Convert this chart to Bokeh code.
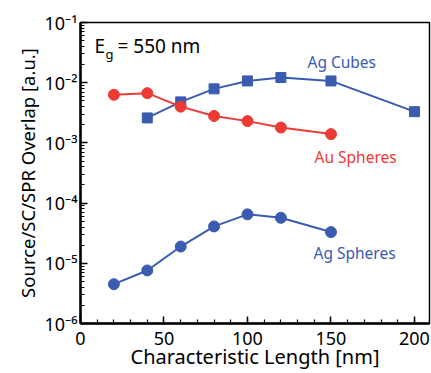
from bokeh.plotting import figure
from bokeh.models import Range1d, Label, FixedTicker, CustomJSTickFormatter, LogTicker
from bokeh.embed import file_html
from bokeh.resources import INLINE

# data
au_x = [20, 40, 60, 80, 100, 120, 150]
au_y = [6.3e-3, 6.7e-3, 4.0e-3, 2.8e-3, 2.3e-3, 1.8e-3, 1.4e-3]
cube_x = [40, 60, 80, 100, 120, 150, 200]
cube_y = [2.6e-3, 4.8e-3, 7.9e-3, 1.07e-2, 1.22e-2, 1.07e-2, 3.3e-3]
agsph_x = [20, 40, 60, 80, 100, 120, 150]
agsph_y = [4.5e-6, 7.6e-6, 1.9e-5, 4.1e-5, 6.5e-5, 5.7e-5, 3.3e-5]
x_ticks = [0, 50, 100, 150, 200]
x_title = "Characteristic Length [nm]"
y_title = "Source/SC/SPR Overlap [a.u.]"

BLUE = "#3a5bb0"
RED = "#ec3b34"
FONT = "Noto Sans"

p = figure(width=431, height=373, y_axis_type="log", output_backend="svg",
           toolbar_location=None, x_range=Range1d(0, 209), y_range=Range1d(1e-6, 1e-1),
           min_border_left=80, min_border_right=2, min_border_top=22, min_border_bottom=50)
p.grid.visible = False
p.outline_line_color = "black"
p.outline_line_width = 1.5
p.outline_line_alpha = 1

p.xaxis.ticker = FixedTicker(ticks=x_ticks, minor_ticks=list(range(0, 210, 10)))
p.yaxis.ticker = LogTicker(num_minor_ticks=10)
p.yaxis.formatter = CustomJSTickFormatter(code="""
const sup = {'-':'\u207b','0':'\u2070','1':'\u00b9','2':'\u00b2','3':'\u00b3','4':'\u2074','5':'\u2075','6':'\u2076','7':'\u2077','8':'\u2078','9':'\u2079'};
const e = Math.round(Math.log10(tick)).toString();
return '10' + e.split('').map(c => sup[c]).join('');
""")
for ax in (p.xaxis[0], p.yaxis[0]):
    ax.axis_line_width = 2.5
    ax.axis_line_color = "black"
    ax.major_tick_in = 7
    ax.major_tick_out = 0
    ax.minor_tick_in = 4
    ax.minor_tick_out = 0
    ax.major_tick_line_width = 1.5
    ax.minor_tick_line_width = 1.2
    ax.major_label_text_font = FONT
    ax.major_label_text_font_size = "18px"
    ax.major_label_text_color = "black"
    ax.axis_label_text_font = FONT
    ax.axis_label_text_font_style = "normal"
    ax.axis_label_text_color = "black"
p.xaxis.axis_label = x_title
p.yaxis.axis_label = y_title
p.xaxis.axis_label_text_font_size = "20px"
p.yaxis.axis_label_text_font_size = "18.5px"
p.xaxis.major_label_standoff = 8
p.yaxis.major_label_standoff = 3
p.xaxis.axis_label_standoff = -5
p.yaxis.axis_label_standoff = 2

p.line(cube_x, cube_y, line_color=BLUE, line_width=2)
p.scatter(cube_x, cube_y, marker="square", size=10, fill_color=BLUE, line_color=BLUE)
p.line(au_x, au_y, line_color=RED, line_width=2)
p.scatter(au_x, au_y, marker="circle", size=11, fill_color=RED, line_color=RED)
p.line(agsph_x, agsph_y, line_color=BLUE, line_width=2)
p.scatter(agsph_x, agsph_y, marker="circle", size=11, fill_color=BLUE, line_color=BLUE)

def lab(text, x, y, color, size="15.5px"):
    p.add_layout(Label(x=x, y=y, x_units="screen", y_units="screen", text=text,
                       text_color=color, text_font=FONT, text_font_size=size,
                       text_baseline="middle", text_align="left"))

# screen coords relative to the plot frame (bottom-left origin)
lab("Ag Cubes", 227, 262, BLUE)
lab("Au Spheres", 234, 167, RED)
lab("Ag Spheres", 233, 71, BLUE)
lab("E", 14, 278, "black", "19px")
lab("g", 25, 270, "black", "13px")
lab("= 550 nm", 37, 278, "black", "19px")

open("out.html", "w").write(file_html(p, INLINE))
